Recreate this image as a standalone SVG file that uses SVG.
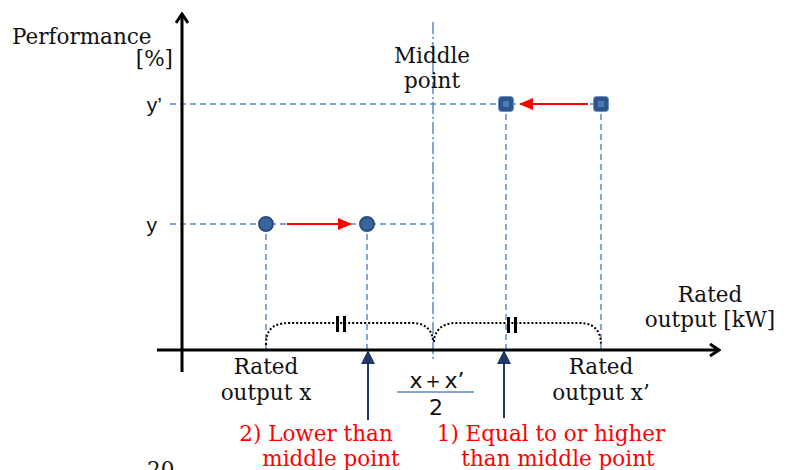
<svg xmlns="http://www.w3.org/2000/svg" width="786" height="470" viewBox="0 0 786 470">
<style>
.serif{font-family:"DejaVu Serif","Liberation Serif",serif;font-size:21.5px;fill:#111}
.red{fill:#ff0000}
.sans{font-family:"Liberation Sans","DejaVu Sans",sans-serif;font-size:21px;fill:#111}
.frac{font-family:"DejaVu Sans","Liberation Sans",sans-serif;font-size:22px;fill:#111}
.axis{stroke:#000;stroke-width:3;fill:none}
.guide{stroke:#5b8ac6;stroke-width:1.5;stroke-dasharray:6 4;fill:none}
.mid{stroke:#5b8ac6;stroke-width:1.5;stroke-dasharray:12 3 2 3;fill:none}
.brace{stroke:#000;stroke-width:2;stroke-dasharray:2 2;fill:none}
.redarrow{stroke:#ff0000;stroke-width:2;fill:none}
.navy{stroke:#1f3864;stroke-width:2;fill:none}
.dot{fill:#3a659c;stroke:#2b4f80;stroke-width:2}
.sq{fill:#2f5688;stroke:#6a93c6;stroke-width:1}
</style>
<defs>
<marker id="open" markerWidth="12" markerHeight="14" refX="10" refY="7" orient="auto" markerUnits="userSpaceOnUse">
<path d="M1,1 L10,7 L1,13" fill="none" stroke="#000" stroke-width="3"/>
</marker>
<marker id="redhead" markerWidth="14" markerHeight="12" refX="13" refY="6" orient="auto" markerUnits="userSpaceOnUse">
<path d="M0,0 L14,6 L0,12 Z" fill="#ff0000"/>
</marker>
<marker id="navyhead" markerWidth="14" markerHeight="14" refX="13" refY="7" orient="auto" markerUnits="userSpaceOnUse">
<path d="M0,0 L14,7 L0,14 Z" fill="#1f3864"/>
</marker>
</defs>

<g id="guides">
<line class="guide" x1="170" y1="104" x2="600" y2="104"/>
<line class="guide" x1="170" y1="224" x2="432" y2="224"/>
<line class="guide" x1="266" y1="224" x2="266" y2="350"/>
<line class="guide" x1="367" y1="224" x2="367" y2="350"/>
<line class="guide" x1="506" y1="104" x2="506" y2="350"/>
<line class="guide" x1="601" y1="104" x2="601" y2="350"/>
<line class="mid" x1="433" y1="22" x2="433" y2="362"/>
<line x1="397" y1="392" x2="474" y2="392" stroke="#5b8ac6" stroke-width="1.5"/>
</g>

<g id="axes">
<line class="axis" x1="182" y1="372" x2="182" y2="14" marker-end="url(#open)"/>
<line class="axis" x1="157" y1="350" x2="719" y2="350" marker-end="url(#open)"/>
</g>

<g id="braces">
<path class="brace" d="M266,345 C266,330 272,323 290,323 L412,323 C428,323 433,333 433,342"/>
<path class="brace" d="M434,342 C434,333 440,323 456,323 L580,323 C596,323 601,333 601,345"/>
<rect x="336" y="316" width="3" height="16" fill="#000"/>
<rect x="343" y="316" width="3" height="16" fill="#000"/>
<rect x="507" y="317" width="3" height="16" fill="#000"/>
<rect x="514" y="317" width="3" height="16" fill="#000"/>
</g>

<g id="connectors">
<line class="redarrow" x1="287" y1="224" x2="351" y2="224" marker-end="url(#redhead)"/>
<line class="redarrow" x1="588" y1="104" x2="520" y2="104" marker-end="url(#redhead)"/>
<line class="navy" x1="368" y1="420" x2="368" y2="351" marker-end="url(#navyhead)"/>
<line class="navy" x1="504" y1="418" x2="504" y2="351" marker-end="url(#navyhead)"/>
</g>

<g id="point-x">
<circle class="dot" cx="266" cy="224" r="7"/>
</g>
<g id="point-mid-low">
<circle class="dot" cx="367" cy="224" r="7"/>
</g>
<g id="point-mid-high">
<rect class="sq" x="498.5" y="96.5" width="15" height="15" rx="3"/>
<rect x="503" y="101" width="6" height="6" fill="#4a7ab8"/>
</g>
<g id="point-x2">
<rect class="sq" x="593.5" y="96.5" width="15" height="15" rx="3"/>
<rect x="598" y="101" width="6" height="6" fill="#4a7ab8"/>
</g>

<g id="labels">
<text class="serif" x="12" y="44">Performance</text>
<text class="serif" x="173" y="66" text-anchor="end">[%]</text>
<text class="sans" x="162" y="112" text-anchor="end">y’</text>
<text class="sans" x="157" y="232" text-anchor="end">y</text>
<text class="serif" x="432" y="63" text-anchor="middle">Middle</text>
<text class="serif" x="432" y="88" text-anchor="middle">point</text>
<text class="serif" x="710" y="302" text-anchor="middle">Rated</text>
<text class="serif" x="710" y="327" text-anchor="middle">output [kW]</text>
<text class="serif" x="266" y="374" text-anchor="middle">Rated</text>
<text class="serif" x="266" y="400" text-anchor="middle">output x</text>
<text class="serif" x="601" y="374" text-anchor="middle">Rated</text>
<text class="serif" x="601" y="400" text-anchor="middle">output x’</text>
<text class="frac" x="437" y="388" text-anchor="middle">x＋x’</text>
<text class="frac" x="436" y="415" text-anchor="middle">2</text>
<text class="serif red" x="316" y="441" text-anchor="middle">2) Lower than</text>
<text class="serif red" x="331" y="466" text-anchor="middle">middle point</text>
<text class="serif red" x="551" y="441" text-anchor="middle">1) Equal to or higher</text>
<text class="serif red" x="558" y="466" text-anchor="middle">than middle point</text>
<text class="serif" x="147" y="477">20</text>
</g>
</svg>
